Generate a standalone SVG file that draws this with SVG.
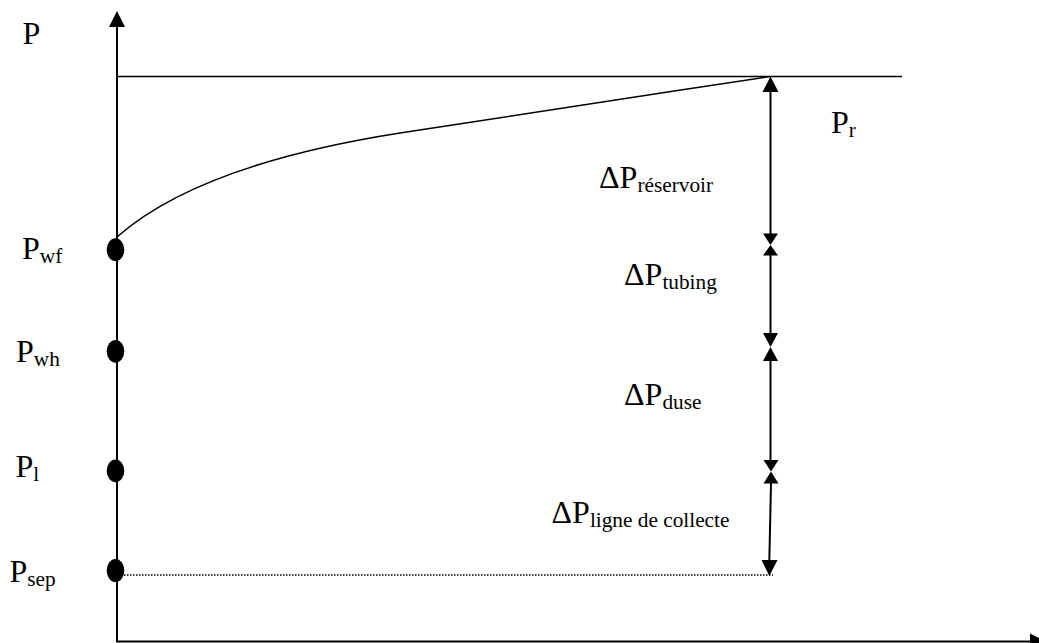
<svg xmlns="http://www.w3.org/2000/svg" width="1039" height="643" viewBox="0 0 1039 643">
  <style>
    text { font-family: "Liberation Serif", "Times New Roman", Times, "DejaVu Serif", serif; font-size: 32px; fill: #000; }
    .sub { font-size: 21.3px; }
    .ax { stroke: #000; stroke-width: 2; fill: none; }
    .thin { stroke: #000; stroke-width: 1.5; fill: none; }
    .head { fill: #000; stroke: none; }
    .pt { fill: #000; }
  </style>
  <rect width="1039" height="643" fill="#fff"/>

  <g id="axes">
    <line class="ax" x1="117" y1="26" x2="117" y2="642"/>
    <polygon class="head" points="117,11 109,27 125,27"/>
    <line class="ax" x1="116" y1="641.5" x2="1032" y2="641.5"/>
    <polygon class="head" points="1046,641.5 1030,633.5 1030,649.5"/>
  </g>

  <g id="connectors">
    <line id="pr-line" class="thin" x1="117" y1="76.5" x2="902" y2="76.5"/>
    <path id="ipr-curve" class="thin" d="M117,237 C170,190 260,155 400,133 S650,95 770,76.5"/>
    <line class="thin" x1="124" y1="575" x2="773" y2="575" stroke-dasharray="1.5,1.5" stroke-width="1.3"/>
    <g id="dimension">
      <line class="ax" x1="770.5" y1="90" x2="770.5" y2="235"/>
      <polygon class="head" points="770.5,76.5 762.5,92 778.5,92"/>
      <polygon class="head" points="770.5,245 763,233.5 778,233.5"/>
      <polygon class="head" points="770.5,245 763,255.5 778,255.5"/>
      <line class="ax" x1="770.5" y1="255" x2="770.5" y2="336"/>
      <polygon class="head" points="770.5,347 763,333 778,333"/>
      <polygon class="head" points="770.5,347 763,361 778,361"/>
      <line class="ax" x1="770.5" y1="360" x2="770.5" y2="462"/>
      <polygon class="head" points="771,471.5 763.5,460 778.5,460"/>
      <polygon class="head" points="771,471.5 763.5,483.5 778.5,483.5"/>
      <line class="ax" x1="771" y1="483" x2="769.3" y2="562"/>
      <polygon class="head" points="769.3,576 761.5,560 777.5,560"/>
    </g>
  </g>

  <g id="point-pwf">
    <ellipse class="pt" cx="115.5" cy="249.7" rx="8.8" ry="11.4"/>
    <text x="22" y="259">P<tspan class="sub" dy="4">wf</tspan></text>
  </g>
  <g id="point-pwh">
    <ellipse class="pt" cx="115.5" cy="351.3" rx="8.8" ry="11.4"/>
    <text x="16" y="361.7">P<tspan class="sub" dy="4">wh</tspan></text>
  </g>
  <g id="point-pl">
    <ellipse class="pt" cx="115.5" cy="470.8" rx="8.8" ry="11.4"/>
    <text x="15.5" y="476.7">P<tspan class="sub" dy="4">l</tspan></text>
  </g>
  <g id="point-psep">
    <ellipse class="pt" cx="115.5" cy="570.5" rx="8.8" ry="11.6"/>
    <text x="9.5" y="581.7">P<tspan class="sub" dy="4">sep</tspan></text>
  </g>

  <g id="labels">
    <text x="22.5" y="44">P</text>
    <text x="831" y="132.7">P<tspan class="sub" dy="4">r</tspan></text>
    <text x="599" y="188.3">ΔP<tspan class="sub" dy="3.5">réservoir</tspan></text>
    <text x="624" y="285">ΔP<tspan class="sub" dy="3.5">tubing</tspan></text>
    <text x="624" y="405">ΔP<tspan class="sub" dy="3.5">duse</tspan></text>
    <text x="551.5" y="523.3">ΔP<tspan class="sub" dy="3.5">ligne de collecte</tspan></text>
  </g>
</svg>
